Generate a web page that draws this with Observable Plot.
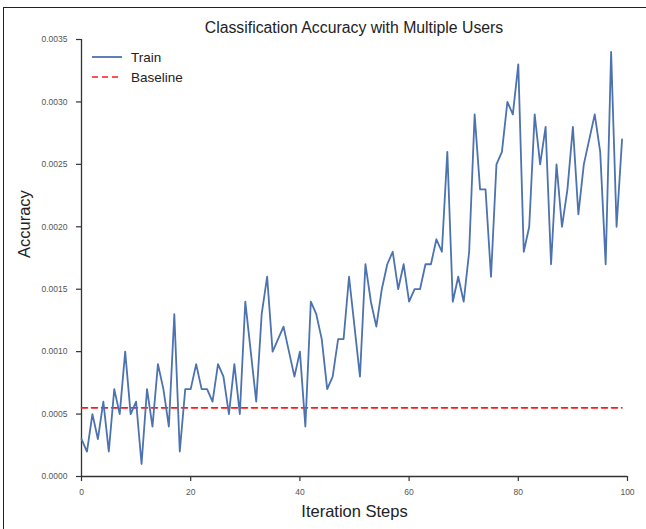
<!DOCTYPE html>
<html>
<head>
<meta charset="utf-8">
<script src="https://cdn.jsdelivr.net/npm/d3@7"></script>
<script src="https://cdn.jsdelivr.net/npm/@observablehq/plot@0.6"></script>
<style>
  html, body { margin: 0; padding: 0; background: #fff; }
  body { font-family: "Liberation Sans", Arial, sans-serif; }
  #wrap { position: relative; width: 646px; height: 529px; overflow: hidden; background: #fff; }
  #frame { position: absolute; left: 3px; top: 7px; width: 700px; height: 600px;
           border-left: 1.6px solid #222; border-top: 1.6px solid #222; pointer-events: none; }
  #title { height: 30px; width: 546px; margin-left: 81px; text-align: center;
           font-size: 15.8px; color: #222; line-height: 56px; position: relative; z-index: 1; }
  #legend { position: absolute; left: 92px; top: 47px; font-size: 13.5px; color: #222; }
  #legend div { display: flex; align-items: center; height: 20px; }
  #legend svg { margin-right: 9px; }
</style>
</head>
<body>
<div id="wrap">
  <div id="frame"></div>
  <div id="title">Classification Accuracy with Multiple Users</div>
  <div id="chart"></div>
  <div id="legend">
    <div><svg width="30" height="10"><line x1="0" y1="5" x2="30" y2="5" stroke="#4C72B0" stroke-width="1.8"/></svg>Train</div>
    <div><svg width="30" height="10"><line x1="0" y1="5" x2="30" y2="5" stroke="#ff1a1a" stroke-width="1.6" stroke-dasharray="6,4"/></svg>Baseline</div>
  </div>
</div>
<script>
const steps = d3.range(0, 100);
const trainAccuracy = [
  0.0003, 0.0002, 0.0005, 0.0003, 0.0006, 0.0002, 0.0007, 0.0005, 0.0010, 0.0005,
  0.0006, 0.0001, 0.0007, 0.0004, 0.0009, 0.0007, 0.0004, 0.0013, 0.0002, 0.0007,
  0.0007, 0.0009, 0.0007, 0.0007, 0.0006, 0.0009, 0.0008, 0.0005, 0.0009, 0.0005,
  0.0014, 0.0010, 0.0006, 0.0013, 0.0016, 0.0010, 0.0011, 0.0012, 0.0010, 0.0008,
  0.0010, 0.0004, 0.0014, 0.0013, 0.0011, 0.0007, 0.0008, 0.0011, 0.0011, 0.0016,
  0.0012, 0.0008, 0.0017, 0.0014, 0.0012, 0.0015, 0.0017, 0.0018, 0.0015, 0.0017,
  0.0014, 0.0015, 0.0015, 0.0017, 0.0017, 0.0019, 0.0018, 0.0026, 0.0014, 0.0016,
  0.0014, 0.0018, 0.0029, 0.0023, 0.0023, 0.0016, 0.0025, 0.0026, 0.0030, 0.0029,
  0.0033, 0.0018, 0.0020, 0.0029, 0.0025, 0.0028, 0.0017, 0.0025, 0.0020, 0.0023,
  0.0028, 0.0021, 0.0025, 0.0027, 0.0029, 0.0026, 0.0017, 0.0034, 0.0020, 0.0027
];
const baselineValue = 0.00055;
const baselineSteps = [0, 99];
const xTicks = [0, 20, 40, 60, 80, 100];
const yTicks = [0, 0.0005, 0.0010, 0.0015, 0.0020, 0.0025, 0.0030, 0.0035];

const train = steps.map((s, i) => ({step: s, acc: trainAccuracy[i]}));
const baseline = baselineSteps.map(s => ({step: s, acc: baselineValue}));

const chart = Plot.plot({
  width: 646,
  height: 499,
  marginLeft: 81,
  marginRight: 19,
  marginTop: 9,
  marginBottom: 53,
  style: {fontFamily: "'Liberation Sans', Arial, sans-serif", background: "transparent", overflow: "visible"},
  x: {domain: [0, 100], ticks: xTicks, tickSize: 5, tickPadding: 7, label: null},
  y: {domain: [0, 0.0035], ticks: yTicks, tickSize: 5, tickPadding: 9, tickFormat: d3.format(".4f"), label: null},
  marks: [
    Plot.axisX({ticks: xTicks, tickSize: 5, tickPadding: 7, fontSize: 8.5, fill: "#555", stroke: "#333", strokeWidth: 1.2, label: null}),
    Plot.axisY({ticks: yTicks, tickSize: 5, tickPadding: 9, fontSize: 8.5, fill: "#555", stroke: "#333", strokeWidth: 1.2, tickFormat: d3.format(".4f"), label: null}),
    Plot.ruleX([0], {stroke: "#333", strokeWidth: 1.3}),
    Plot.ruleY([0], {stroke: "#333", strokeWidth: 1.3}),
    Plot.line(baseline, {x: "step", y: "acc", stroke: "#ff1a1a", strokeWidth: 1.6, strokeDasharray: "6,4"}),
    Plot.line(train, {x: "step", y: "acc", stroke: "#4C72B0", strokeWidth: 1.8}),
    Plot.text(["Iteration Steps"], {frameAnchor: "bottom", dy: 40, fontSize: 16.5, fill: "#222"}),
    Plot.text(["Accuracy"], {frameAnchor: "left", dx: -57, rotate: -90, fontSize: 16.5, fill: "#222"})
  ]
});
document.getElementById("chart").appendChild(chart);
</script>
</body>
</html>
